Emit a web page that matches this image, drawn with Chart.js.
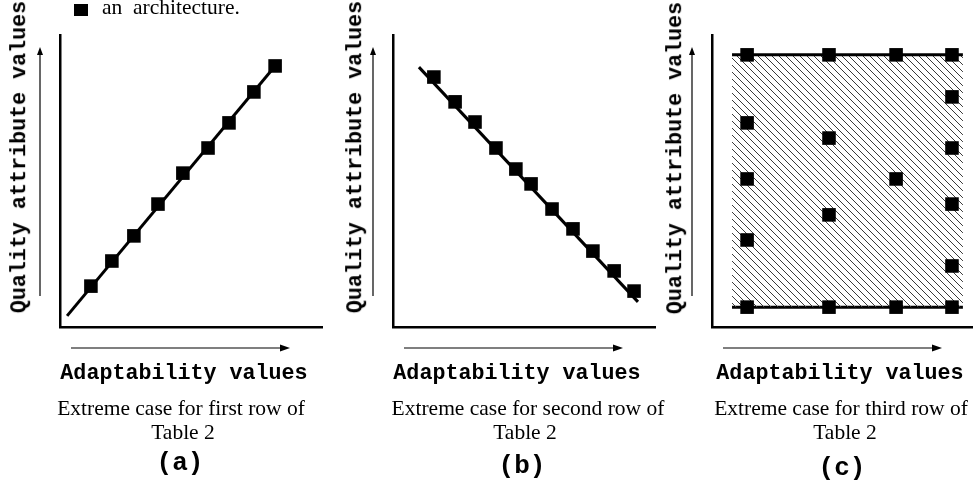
<!DOCTYPE html>
<html>
<head>
<meta charset="utf-8">
<script src="https://cdn.jsdelivr.net/npm/chart.js@4.4.1/dist/chart.umd.min.js"></script>
<style>
  html, body { margin: 0; padding: 0; background: #fff; }
  #wrap { position: relative; width: 979px; height: 486px; overflow: hidden; background: #fff; }
  #wrap canvas { position: absolute; top: 0; }
  .t { position: absolute; white-space: pre; line-height: 1; color: #000; transform: translate(-50%, -50%); }
  .mono { font-family: 'Liberation Mono', 'Courier New', monospace; font-weight: bold; font-size: 21.7px; }
  .serif { font-family: 'Liberation Serif', 'Times New Roman', serif; font-size: 21.5px; }
  .tag { font-family: 'Liberation Mono', 'Courier New', monospace; font-weight: bold; font-size: 26px; }
  .rot { transform: translate(-50%, -50%) rotate(-90deg); }
  #key { position: absolute; left: 74px; top: 4px; width: 14px; height: 12px; background: #000; }
  #keyText { position: absolute; left: 102px; top: -3px; transform: none; }
</style>
</head>
<body>
<div id="wrap">
  <canvas id="chartA" width="330" height="486" style="left:0px"></canvas>
  <canvas id="chartB" width="330" height="486" style="left:330px"></canvas>
  <canvas id="chartC" width="319" height="486" style="left:660px"></canvas>

  <div id="key"></div>
  <div id="keyText" class="t serif">an  architecture.</div>

  <div class="t mono rot" style="left:20px; top:157px">Quality attribute values</div>
  <div class="t mono rot" style="left:356px; top:157px">Quality attribute values</div>
  <div class="t mono rot" style="left:676px; top:158px">Quality attribute values</div>

  <div class="t mono" style="left:184px; top:374px">Adaptability values</div>
  <div class="t mono" style="left:517px; top:374px">Adaptability values</div>
  <div class="t mono" style="left:840px; top:374px">Adaptability values</div>

  <div class="t serif" style="left:181px; top:409px">Extreme case for first row of</div>
  <div class="t serif" style="left:183px; top:433px">Table 2</div>
  <div class="t serif" style="left:528px; top:409px">Extreme case for second row of</div>
  <div class="t serif" style="left:525px; top:433px">Table 2</div>
  <div class="t serif" style="left:841px; top:409px">Extreme case for third row of</div>
  <div class="t serif" style="left:845px; top:433px">Table 2</div>

  <div class="t tag" style="left:180px; top:463px">(a)</div>
  <div class="t tag" style="left:522px; top:466px">(b)</div>
  <div class="t tag" style="left:842px; top:468px">(c)</div>
</div>

<script>
// values on a 0-100 scale along each axis (axes carry no ticks in the figure)

// (a) first row: quality rises with adaptability
const aLineX = [2.7, 82.1]
const aLineY = [3.8, 89.4]
const aX = [11.8, 19.8, 28.2, 37.4, 46.9, 56.5, 64.5, 74.0, 82.1]
const aY = [14.0, 22.6, 31.2, 42.1, 52.7, 61.3, 69.9, 80.5, 89.4]

// (b) second row: quality falls as adaptability rises
const bLineX = [9.9, 93.5]
const bLineY = [89.0, 8.6]
const bX = [15.6, 23.7, 31.3, 39.3, 46.9, 52.7, 60.7, 68.7, 76.3, 84.4, 92.0]
const bY = [85.6, 77.1, 70.2, 61.3, 54.1, 49.0, 40.4, 33.6, 26.0, 19.2, 12.3]

// (c) third row: architectures spread over the whole band
const cBandX = [7.7, 96.5]
const cBandTop = [93.2, 93.2]
const cBandBottom = [6.8, 6.8]
const cX = [13.5, 45.0, 70.8, 92.3, 13.5, 45.0, 70.8, 92.3, 13.5, 13.5, 13.5, 45.0, 45.0, 70.8, 92.3, 92.3, 92.3, 92.3]
const cY = [93.2, 93.2, 93.2, 93.2, 6.8, 6.8, 6.8, 6.8, 69.9, 50.7, 29.8, 64.7, 38.4, 50.7, 78.8, 61.3, 42.1, 20.9]

const pts = (xs, ys) => xs.map((x, i) => ({ x, y: ys[i] }))

const hatch = () => {
    const c = document.createElement('canvas')
    c.width = 7
    c.height = 7
    const g = c.getContext('2d')
    g.strokeStyle = '#3a3a3a'
    g.lineWidth = 1
    g.beginPath()
    g.moveTo(-1, -1); g.lineTo(8, 8)
    g.moveTo(-1, 6); g.lineTo(1, 8)
    g.moveTo(6, -1); g.lineTo(8, 1)
    g.stroke()
    return g.createPattern(c, 'repeat')
}

// arrows beside the axes
const axisArrows = {
    id: 'axisArrows',
    afterDraw(chart) {
        const { ctx, chartArea: { left, top, bottom } } = chart
        ctx.save()
        ctx.strokeStyle = '#000'
        ctx.fillStyle = '#000'
        ctx.lineWidth = 1.2

        const ax = left - 20
        ctx.beginPath()
        ctx.moveTo(ax, bottom - 31)
        ctx.lineTo(ax, top + 18)
        ctx.stroke()
        ctx.beginPath()
        ctx.moveTo(ax, top + 12)
        ctx.lineTo(ax - 3, top + 20)
        ctx.lineTo(ax + 3, top + 20)
        ctx.closePath()
        ctx.fill()

        const ay = bottom + 21
        ctx.beginPath()
        ctx.moveTo(left + 11, ay)
        ctx.lineTo(left + 222, ay)
        ctx.stroke()
        ctx.beginPath()
        ctx.moveTo(left + 230, ay)
        ctx.lineTo(left + 220, ay - 3.5)
        ctx.lineTo(left + 220, ay + 3.5)
        ctx.closePath()
        ctx.fill()
        ctx.restore()
    }
}

const axis = {
    type: 'linear',
    min: 0,
    max: 100,
    ticks: { display: false },
    grid: { display: false, drawTicks: false },
    border: { display: true, color: '#000', width: 2.5 }
}

const options = pad => ({
    responsive: false,
    animation: false,
    events: [],
    layout: { padding: pad, autoPadding: false },
    plugins: { legend: { display: false }, tooltip: { enabled: false } },
    scales: { x: { ...axis }, y: { ...axis } }
})

const markers = data => ({
    data,
    showLine: false,
    pointStyle: 'rect',
    pointRadius: 9.6,
    pointBackgroundColor: '#000',
    pointBorderWidth: 0
})

const line = data => ({
    data,
    borderColor: '#000',
    borderWidth: 3,
    pointRadius: 0,
    fill: false
})

new Chart('chartA', {
    type: 'line',
    data: { datasets: [markers(pts(aX, aY)), line(pts(aLineX, aLineY))] },
    options: options({ left: 60, top: 35, right: 8, bottom: 159 }),
    plugins: [axisArrows]
})

new Chart('chartB', {
    type: 'line',
    data: { datasets: [markers(pts(bX, bY)), line(pts(bLineX, bLineY))] },
    options: options({ left: 63, top: 35, right: 5, bottom: 159 }),
    plugins: [axisArrows]
})

new Chart('chartC', {
    type: 'line',
    data: {
        datasets: [
            markers(pts(cX, cY)),
            { ...line(pts(cBandX, cBandTop)), fill: '+1', backgroundColor: hatch() },
            line(pts(cBandX, cBandBottom))
        ]
    },
    options: options({ left: 52, top: 35, right: 7, bottom: 159 }),
    plugins: [axisArrows]
})
</script>
</body>
</html>
